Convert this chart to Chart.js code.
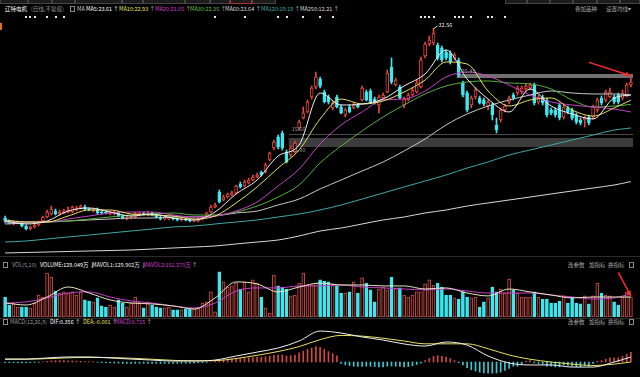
<!DOCTYPE html>
<html>
<head>
<meta charset="utf-8">
<script src="https://cdn.jsdelivr.net/npm/chart.js@4.4.1/dist/chart.umd.min.js"></script>
<style>
  html, body { margin: 0; padding: 0; background: #000; }
  body { width: 640px; height: 377px; position: relative; overflow: hidden;
         font-family: "Noto Sans CJK SC", sans-serif; }
  canvas { position: absolute; }
  .t { position: absolute; font-size: 5.5px; line-height: 7px; white-space: nowrap; color: #bbb; }
  .tab { position: absolute; top: 0; height: 4px; background: #1c1c1c; border: 1px solid #444;
         border-top: none; box-sizing: border-box; }
  .sep { position: absolute; left: 0; width: 640px; height: 1px; background: #2c2c2c; }
  .box { position: absolute; width: 5px; height: 6px; border: 1px solid #888; box-sizing: border-box; }
</style>
</head>
<body>

<div class="tab" style="left:0;width:28px"></div>
<div class="tab" style="left:28px;width:24px"></div>
<div class="tab" style="left:52px;width:23px"></div>
<div class="tab" style="left:75px;width:47px"></div>
<div class="tab" style="left:122px;width:21px"></div>
<div class="tab" style="left:143px;width:42px"></div>
<div class="tab" style="left:185px;width:25px"></div>
<div class="tab" style="left:210px;width:20px"></div>
<div class="tab" style="left:230px;width:22px;border-color:#b03030"></div>
<div class="tab" style="left:252px;width:24px"></div>
<div class="tab" style="left:505px;width:22px"></div>
<div class="tab" style="left:527px;width:23px"></div>
<div class="tab" style="left:550px;width:23px"></div>
<div class="tab" style="left:573px;width:24px"></div>
<div class="tab" style="left:597px;width:23px"></div>
<div class="tab" style="left:620px;width:20px"></div>

<div class="t" style="left:5px;top:6px;color:#fff">辽特电机</div>
<div class="t" style="left:31px;top:6px;color:#999">(日线,不复权)</div>
<div class="box" style="left:70px;top:6px"></div>
<div class="t" style="left:77px;top:6px;color:#ccc">MA</div>
<div class="t" style="left:86px;top:6px;color:#fff">MA5:23.61 ↑</div>
<div class="t" style="left:119px;top:6px;color:#e8e060">MA10:22.93 <span style="color:#ccc">↑</span></div>
<div class="t" style="left:155px;top:6px;color:#d040d0">MA20:21.05 <span style="color:#ccc">↑</span></div>
<div class="t" style="left:190px;top:6px;color:#60c040">MA30:22.35 <span style="color:#ccc">↑</span></div>
<div class="t" style="left:225px;top:6px;color:#ddd">MA60:23.64 ↑</div>
<div class="t" style="left:261px;top:6px;color:#40b0b0">MA120:19.19 <span style="color:#ccc">↑</span></div>
<div class="t" style="left:300px;top:6px;color:#ddd">MA250:12.21 ↑</div>
<div class="t" style="left:575px;top:6px;color:#aaa">叠加品种</div>
<div class="t" style="left:606px;top:6px;color:#aaa">设置均线▾</div>
<div style="position:absolute;left:0;top:23px;width:2px;height:7px;background:#e07020"></div>

<canvas id="price" width="630" height="242" style="left:3px;top:14px"></canvas>
<div class="sep" style="top:256px"></div>

<div class="box" style="left:3px;top:262px"></div>
<div class="t" style="left:12px;top:262px;color:#999">VOL(5,10)</div>
<div class="t" style="left:40px;top:262px;color:#fff">VOLUME:129.049万 ↓</div>
<div class="t" style="left:92px;top:262px;color:#eee">MAVOL1:129.902万 <span style="color:#ccc">↓</span></div>
<div class="t" style="left:143px;top:262px;color:#d040d0">MAVOL2:151.270万 <span style="color:#ccc">↑</span></div>
<div class="t" style="left:568px;top:262px;color:#aaa">改参数</div>
<div class="t" style="left:589px;top:262px;color:#aaa">加指标</div>
<div class="t" style="left:608px;top:262px;color:#aaa">换指标</div>
<div class="box" style="left:629px;top:262px"></div>

<canvas id="vol" width="630" height="49" style="left:3px;top:268px"></canvas>
<div class="sep" style="top:318px"></div>

<div class="box" style="left:3px;top:319px"></div>
<div class="t" style="left:10px;top:319px;color:#999">MACD(12,26,9)</div>
<div class="t" style="left:50px;top:319px;color:#fff">DIF:0.356 ↑</div>
<div class="t" style="left:83px;top:319px;color:#e8e060">DEA:-0.001 <span style="color:#ccc">↑</span></div>
<div class="t" style="left:115px;top:319px;color:#d040d0">MACD:0.715 <span style="color:#ccc">↑</span></div>
<div class="t" style="left:568px;top:319px;color:#aaa">改参数</div>
<div class="t" style="left:589px;top:319px;color:#aaa">加指标</div>
<div class="t" style="left:608px;top:319px;color:#aaa">换指标</div>
<div class="box" style="left:629px;top:319px"></div>

<canvas id="macd" width="630" height="49" style="left:3px;top:328px"></canvas>

<script>
const N = 150
const labels = Array.from({ length: N }, (_, i) => String(i + 1))

// daily candles, price in yuan
const open = [
  7.11, 6.71, 6.31, 6.44, 6.44, 6.04, 5.64, 5.91, 6.18, 6.71,
  7.25, 7.65, 8.05, 7.65, 7.79, 7.92, 7.92, 8.19, 8.46, 8.59,
  8.32, 8.05, 8.32, 7.92, 7.92, 7.65, 7.65, 7.79, 7.38, 6.98,
  7.11, 7.25, 7.52, 7.79, 7.52, 7.79, 7.52, 7.25, 6.98, 6.98,
  7.11, 6.98, 6.85, 6.98, 6.85, 6.71, 6.71, 6.98, 7.38, 7.92,
  8.59, 10.60, 9.53, 9.93, 10.20, 10.47, 11.68, 11.41, 11.81, 12.21,
  12.62, 13.29, 13.29, 14.90, 16.51, 17.99, 18.52, 15.97, 15.57, 15.97,
  19.19, 20.53, 21.34, 23.35, 24.69, 25.77, 24.02, 23.35, 21.88, 23.35,
  22.01, 20.94, 22.01, 21.88, 22.28, 22.95, 24.02, 24.16, 23.08, 22.28,
  23.22, 24.02, 27.38, 24.96, 24.69, 22.28, 22.95, 23.62, 24.02, 24.69,
  28.85, 30.47, 30.60, 30.33, 29.93, 29.39, 29.26, 28.59, 28.32, 25.23,
  23.89, 22.28, 23.35, 23.22, 22.95, 22.14, 22.28, 19.60, 20.27, 21.61,
  22.68, 23.62, 23.89, 24.02, 24.43, 24.56, 24.96, 22.68, 23.35, 22.95,
  21.61, 21.61, 22.28, 20.67, 21.88, 21.61, 20.94, 20.27, 20.27, 20.67,
  20.67, 21.61, 23.22, 22.95, 23.35, 23.35, 23.62, 23.22, 23.62, 24.96
]
const close = [
  6.71, 6.44, 6.58, 6.58, 6.04, 5.64, 5.91, 6.18, 6.58, 7.25,
  7.92, 8.32, 7.65, 7.92, 8.05, 8.19, 8.59, 8.46, 8.72, 8.32,
  8.19, 8.32, 7.79, 7.79, 7.79, 7.92, 7.92, 7.38, 7.11, 7.25,
  7.25, 7.79, 7.79, 7.65, 7.79, 7.52, 7.25, 6.98, 7.11, 7.11,
  6.98, 6.85, 6.98, 6.85, 6.71, 6.85, 6.98, 7.25, 7.79, 8.59,
  8.86, 9.26, 9.93, 10.34, 10.47, 11.41, 11.28, 11.95, 12.21, 12.62,
  12.89, 12.89, 14.23, 15.84, 17.31, 16.64, 16.51, 14.63, 16.51, 17.18,
  20.00, 21.21, 22.68, 24.56, 26.04, 24.83, 22.68, 22.68, 22.55, 22.01,
  21.21, 21.61, 21.34, 22.28, 22.01, 24.56, 22.95, 22.68, 22.55, 23.35,
  23.62, 26.57, 25.37, 25.63, 23.22, 23.08, 23.62, 24.29, 25.23, 28.32,
  30.47, 31.00, 31.94, 28.59, 28.32, 28.59, 28.05, 28.99, 26.31, 23.62,
  21.61, 23.22, 24.29, 22.55, 22.41, 22.68, 20.94, 18.92, 21.61, 22.14,
  23.22, 23.22, 24.56, 24.56, 24.83, 24.96, 22.55, 23.35, 22.55, 20.94,
  21.21, 20.94, 20.53, 22.01, 21.34, 20.53, 20.00, 19.86, 20.53, 19.86,
  22.01, 22.95, 22.55, 24.02, 24.02, 22.68, 22.68, 23.89, 24.96, 25.37
]
const high = [
  7.38, 6.85, 6.71, 6.71, 6.58, 6.18, 6.04, 6.31, 6.71, 7.38,
  8.19, 8.72, 8.32, 8.19, 8.32, 8.59, 8.72, 8.72, 8.86, 8.86,
  8.46, 8.46, 8.46, 8.05, 8.05, 8.05, 8.05, 7.92, 7.52, 7.38,
  7.38, 7.92, 7.92, 7.92, 8.05, 7.92, 7.65, 7.38, 7.25, 7.25,
  7.25, 7.11, 7.11, 7.11, 6.98, 6.98, 7.11, 7.38, 7.92, 8.86,
  9.13, 10.87, 10.20, 10.47, 10.74, 11.54, 11.95, 12.21, 12.48, 12.89,
  13.15, 13.42, 14.50, 15.97, 17.58, 18.25, 18.79, 16.24, 16.78, 17.45,
  20.27, 22.01, 22.95, 24.83, 26.71, 26.04, 24.29, 23.62, 22.82, 23.62,
  22.28, 21.88, 22.28, 22.55, 22.41, 24.83, 24.29, 24.43, 23.35, 23.62,
  23.89, 26.98, 28.59, 25.90, 24.96, 23.35, 23.89, 24.56, 25.63, 28.72,
  30.73, 31.54, 32.56, 30.60, 30.20, 29.66, 29.53, 29.26, 28.59, 25.50,
  24.16, 23.49, 24.56, 23.49, 23.22, 22.95, 22.55, 20.53, 21.88, 22.41,
  23.49, 23.89, 24.83, 24.83, 25.10, 25.23, 25.23, 23.62, 23.62, 23.22,
  21.88, 21.88, 22.55, 22.28, 22.14, 21.88, 21.21, 20.53, 20.80, 20.94,
  22.28, 23.22, 23.49, 24.29, 24.56, 23.62, 23.89, 24.29, 25.23, 25.90
]
const low = [
  6.44, 6.31, 6.18, 6.31, 5.91, 5.50, 5.50, 5.77, 6.04, 6.58,
  7.11, 7.52, 7.52, 7.52, 7.65, 7.79, 7.79, 8.05, 8.32, 8.19,
  8.05, 7.92, 7.65, 7.65, 7.65, 7.52, 7.52, 7.25, 6.98, 6.85,
  6.98, 7.11, 7.38, 7.52, 7.38, 7.38, 7.11, 6.85, 6.85, 6.85,
  6.85, 6.71, 6.71, 6.71, 6.58, 6.58, 6.58, 6.85, 7.25, 7.79,
  8.46, 9.13, 9.40, 9.80, 10.07, 10.34, 11.14, 11.28, 11.68, 12.08,
  12.48, 12.75, 13.15, 14.76, 16.24, 16.37, 16.24, 14.50, 15.30, 15.84,
  18.92, 20.40, 21.21, 23.08, 24.43, 24.56, 22.55, 22.41, 21.61, 21.88,
  21.07, 20.67, 21.21, 21.74, 21.88, 22.82, 22.82, 22.55, 22.41, 21.21,
  23.08, 23.89, 25.10, 24.83, 23.08, 21.88, 22.82, 23.49, 23.89, 24.56,
  28.59, 30.20, 30.33, 28.32, 28.05, 28.32, 27.78, 28.32, 26.04, 23.35,
  21.34, 21.88, 23.08, 22.41, 22.14, 21.61, 20.27, 18.52, 20.00, 21.34,
  22.41, 22.95, 23.62, 23.76, 24.16, 24.29, 22.28, 22.41, 22.28, 20.67,
  20.94, 20.67, 20.27, 20.40, 21.07, 20.27, 19.73, 19.60, 19.33, 19.60,
  20.40, 21.34, 22.28, 22.68, 23.22, 22.41, 22.41, 22.95, 23.35, 24.69
]

// volume, 万股
const volume = [
  130, 78, 91, 65, 65, 65, 59, 91, 143, 130,
  286, 260, 169, 156, 163, 156, 163, 143, 163, 111,
  104, 98, 124, 72, 65, 78, 65, 111, 91, 65,
  91, 130, 98, 59, 98, 78, 65, 59, 59, 65,
  46, 46, 46, 52, 52, 52, 59, 91, 98, 163,
  33, 293, 228, 195, 202, 221, 182, 228, 163, 241,
  221, 130, 59, 26, 273, 202, 195, 182, 137, 143,
  221, 286, 208, 208, 221, 241, 234, 228, 215, 202,
  156, 156, 163, 228, 156, 254, 221, 176, 98, 182,
  195, 176, 260, 189, 189, 143, 130, 143, 163, 163,
  215, 241, 208, 221, 195, 143, 143, 124, 117, 163,
  130, 124, 130, 65, 98, 124, 195, 163, 182, 156,
  247, 176, 156, 130, 130, 130, 163, 130, 117, 117,
  91, 91, 104, 137, 91, 130, 91, 85, 137, 85,
  137, 221, 156, 143, 137, 98, 78, 130, 163, 130
]

// moving averages read every 5th day
const maIdx = [0, 5, 10, 15, 20, 25, 30, 35, 40, 45, 50, 55, 60, 65, 70, 75,
               80, 85, 90, 95, 100, 105, 110, 115, 120, 125, 130, 135, 140, 145, 149]
const ma5   = [6.71, 6.31, 6.71, 8.05, 8.46, 7.92, 7.38, 7.65, 7.11, 6.85, 7.92, 10.34, 12.21, 15.43, 16.91, 23.89,
               22.28, 22.41, 23.08, 24.83, 26.44, 29.66, 25.77, 23.08, 21.34, 24.43, 22.14, 21.07, 20.40, 23.22, 23.61]
const ma10  = [6.85, 6.58, 6.58, 7.38, 8.19, 8.19, 7.65, 7.52, 7.38, 6.98, 7.38, 9.13, 11.28, 13.82, 16.24, 20.40,
               23.08, 22.41, 22.82, 24.02, 25.63, 28.05, 27.78, 24.16, 22.14, 22.95, 23.22, 21.61, 20.80, 21.88, 22.93]
const ma20  = [6.58, 6.58, 6.58, 6.98, 7.38, 7.79, 7.92, 7.92, 7.52, 7.25, 7.38, 8.05, 9.26, 11.41, 13.69, 17.05,
               19.60, 21.34, 22.95, 23.08, 24.16, 26.04, 26.71, 26.17, 24.96, 23.62, 22.68, 22.28, 22.01, 21.74, 21.34]
const ma30  = [6.58, 6.58, 6.58, 6.71, 6.98, 7.25, 7.52, 7.65, 7.79, 7.52, 7.52, 7.92, 8.72, 9.93, 11.54, 14.50,
               16.78, 18.79, 20.67, 22.28, 23.76, 24.83, 25.37, 25.50, 25.23, 25.10, 24.43, 22.95, 22.01, 22.14, 22.35]
const ma60  = [6.31, 6.44, 6.58, 6.71, 6.85, 6.98, 7.11, 7.11, 7.25, 7.25, 7.38, 7.79, 8.05, 8.86, 9.66, 11.01,
               12.21, 13.42, 14.63, 16.11, 17.72, 19.60, 21.07, 22.14, 22.95, 23.62, 24.16, 23.89, 23.76, 23.76, 23.64]
const ma120 = [3.89, 4.03, 4.30, 4.57, 4.83, 5.10, 5.37, 5.64, 5.91, 6.04, 6.31, 6.58, 6.85, 7.25, 7.65, 8.19,
               8.86, 9.66, 10.47, 11.28, 12.08, 12.89, 13.82, 14.63, 15.57, 16.24, 16.91, 17.58, 18.25, 18.92, 19.19]
const ma250 = [2.42, 2.49, 2.55, 2.62, 2.69, 2.75, 2.82, 2.95, 3.09, 3.22, 3.36, 3.63, 3.89, 4.16, 4.70, 5.37,
               5.77, 6.31, 6.85, 7.25, 7.79, 8.19, 8.72, 9.13, 9.53, 9.93, 10.34, 10.74, 11.14, 11.54, 12.00]

const mavol1 = [91, 78, 130, 195, 156, 111, 91, 85, 72, 52, 124, 228, 215, 163, 195, 221,
                208, 208, 202, 202, 182, 189, 156, 137, 182, 163, 143, 124, 130, 130, 129.9]
const mavol2 = [91, 98, 124, 156, 163, 130, 104, 91, 72, 59, 91, 169, 189, 189, 202, 202,
                208, 195, 189, 182, 176, 182, 169, 156, 156, 156, 143, 130, 117, 124, 151.27]

const dif = [0.21, 0.21, 0.29, 0.36, 0.36, 0.29, 0.21, 0.14, 0.07, 0.07, 0.14, 0.43, 0.71, 1.00, 1.50, 2.21,
             2.07, 1.79, 1.57, 1.29, 1.14, 1.43, 1.21, 0.43, -0.07, -0.21, -0.21, -0.36, -0.36, 0.00, 0.356]
const dea = [0.20, 0.20, 0.24, 0.30, 0.33, 0.32, 0.27, 0.20, 0.12, 0.09, 0.10, 0.25, 0.48, 0.75, 1.10, 1.60,
             1.90, 1.85, 1.70, 1.50, 1.30, 1.30, 1.30, 0.95, 0.50, 0.20, 0.00, -0.15, -0.25, -0.15, -0.001]
const macdHist = [
  -0.04, -0.05, -0.05, -0.06, -0.06, -0.05, -0.04, -0.03, -0.02, 0.02,
  0.05, 0.08, 0.10, 0.10, 0.10, 0.08, 0.08, 0.06, 0.05, 0.04,
  0.03, 0.02, -0.02, -0.04, -0.05, -0.06, -0.07, -0.08, -0.10, -0.10,
  -0.10, -0.10, -0.09, -0.09, -0.10, -0.10, -0.10, -0.11, -0.10, -0.10,
  -0.10, -0.10, -0.09, -0.09, -0.08, -0.08, -0.06, -0.05, -0.03, 0.02,
  0.05, 0.10, 0.15, 0.20, 0.22, 0.25, 0.25, 0.28, 0.30, 0.32,
  0.34, 0.35, 0.38, 0.42, 0.48, 0.50, 0.50, 0.42, 0.45, 0.50,
  0.65, 0.78, 0.90, 1.00, 1.10, 1.05, 0.90, 0.75, 0.60, 0.45,
  -0.10, -0.20, -0.25, -0.30, -0.32, -0.32, -0.30, -0.30, -0.32, -0.35,
  -0.35, -0.30, -0.28, -0.30, -0.32, -0.35, -0.32, -0.26, -0.18, -0.08,
  0.10, 0.25, 0.40, 0.45, 0.40, 0.35, 0.25, 0.10, -0.05, -0.20,
  -0.40, -0.55, -0.65, -0.72, -0.78, -0.80, -0.80, -0.78, -0.72, -0.60,
  -0.45, -0.30, -0.30, -0.15, 0.05, 0.10, -0.05, -0.10, -0.15, -0.30,
  -0.30, -0.35, -0.35, -0.20, -0.25, -0.30, -0.35, -0.35, -0.25, -0.30,
  -0.10, 0.05, 0.10, 0.20, 0.30, 0.30, 0.30, 0.40, 0.55, 0.70
]

// info-mine markers (day index) and drawn price bands
const markerDays = [5, 6, 7, 10, 12, 14, 50, 57, 65, 67, 71, 75, 78, 99, 100, 101, 102, 107, 108, 109, 111, 115, 116, 119]
const bandStart  = [108, 68, 68]
const bandTop    = [26.44, 18.39, 17.85]
const bandBottom = [25.90, 18.25, 16.64]
const bandText   = ['25.40', '15.60', '13.90']

const RED = '#e8453c'
const CYAN = '#3de8f0'
const up = i => close[i] >= open[i]

const spread = vals => {
  const a = new Array(N).fill(null)
  maIdx.forEach((d, k) => { a[d] = vals[k] })
  return a
}

const baseOptions = (yMin, yMax, plugins) => ({
  responsive: false,
  animation: false,
  events: [],
  layout: { padding: 0 },
  plugins: { legend: { display: false }, tooltip: { enabled: false }, ...plugins },
  scales: {
    x: { display: false, offset: true, grid: { display: false } },
    y: { display: false, min: yMin, max: yMax, grid: { display: false } }
  }
})

const lineSet = (vals, color) => ({
  type: 'line', data: spread(vals), borderColor: color, borderWidth: 1,
  pointRadius: 0, spanGaps: true, cubicInterpolationMode: 'monotone', order: 0
})

function arrow(ctx, x0, y0, x1, y1) {
  const a = Math.atan2(y1 - y0, x1 - x0)
  ctx.save()
  ctx.strokeStyle = ctx.fillStyle = '#ff2a2a'
  ctx.lineWidth = 1.5
  ctx.beginPath(); ctx.moveTo(x0, y0); ctx.lineTo(x1, y1); ctx.stroke()
  ctx.beginPath()
  ctx.moveTo(x1, y1)
  ctx.lineTo(x1 - 6 * Math.cos(a - 0.45), y1 - 6 * Math.sin(a - 0.45))
  ctx.lineTo(x1 - 6 * Math.cos(a + 0.45), y1 - 6 * Math.sin(a + 0.45))
  ctx.closePath(); ctx.fill()
  ctx.restore()
}

const priceOverlay = {
  id: 'priceOverlay',
  beforeDatasetsDraw(chart) {
    const { ctx, scales: { x, y }, chartArea } = chart
    ctx.save()
    bandStart.forEach((d, k) => {
      const x0 = x.getPixelForValue(d) - 2
      const y0 = y.getPixelForValue(bandTop[k])
      const y1 = y.getPixelForValue(bandBottom[k])
      ctx.fillStyle = k === 0 ? 'rgba(150,150,150,0.75)' : k === 1 ? 'rgba(120,120,120,0.6)' : 'rgba(110,110,110,0.55)'
      ctx.fillRect(x0, y0, chartArea.right - x0 + 4, Math.max(1, y1 - y0))
    })
    ctx.restore()
  },
  afterDatasetsDraw(chart) {
    const { ctx, scales: { x, y } } = chart
    ctx.save()
    ctx.font = '5.5px "Noto Sans CJK SC"'
    ctx.textBaseline = 'middle'
    // band labels
    ctx.fillStyle = '#999'
    bandStart.forEach((d, k) => {
      const yy = k === 0 ? y.getPixelForValue(bandTop[k]) - 3 : y.getPixelForValue(bandBottom[k]) + (k === 1 ? -6 : 3)
      ctx.fillText(bandText[k], x.getPixelForValue(d) + (k === 0 ? 3 : 1), yy)
    })
    // highest price tag
    let hi = 0
    high.forEach((h, i) => { if (h > high[hi]) hi = i })
    const hx = x.getPixelForValue(hi), hy = y.getPixelForValue(high[hi])
    ctx.strokeStyle = '#ddd'; ctx.lineWidth = 1
    ctx.beginPath(); ctx.moveTo(hx, hy + 0.5); ctx.lineTo(hx + 4, hy - 2.5); ctx.stroke()
    ctx.fillStyle = '#eee'
    ctx.fillText(high[hi].toFixed(2), hx + 5, hy - 3)
    // markers above candles
    ctx.fillStyle = '#e8e8e8'
    markerDays.forEach(d => ctx.fillRect(Math.round(x.getPixelForValue(d)) - 1, 2, 2, 2))
    // red hand-drawn arrow
    arrow(ctx, x.getPixelForValue(139), y.getPixelForValue(28.0), x.getPixelForValue(149), y.getPixelForValue(26.2))
    ctx.restore()
  }
}

const volOverlay = {
  id: 'volOverlay',
  afterDatasetsDraw(chart) {
    const { ctx, scales: { x, y } } = chart
    arrow(ctx, x.getPixelForValue(146), y.getPixelForValue(290), x.getPixelForValue(149), y.getPixelForValue(135))
  }
}

new Chart(document.getElementById('price'), {
  data: {
    labels,
    datasets: [
      lineSet(ma5, '#f0f0f0'),
      lineSet(ma10, '#e8e060'),
      lineSet(ma20, '#c840c8'),
      lineSet(ma30, '#58b040'),
      lineSet(ma60, '#c8c8c8'),
      lineSet(ma120, '#3ea8a8'),
      lineSet(ma250, '#d8d8d8'),
      {
        type: 'bar', data: open.map((o, i) => [o, close[i]]),
        backgroundColor: open.map((o, i) => up(i) ? '#000' : CYAN),
        borderColor: open.map((o, i) => up(i) ? RED : CYAN),
        borderWidth: 1, borderSkipped: false, barThickness: 3, minBarLength: 1,
        grouped: false, order: 1
      },
      {
        type: 'bar', data: low.map((l, i) => [l, high[i]]),
        backgroundColor: open.map((o, i) => up(i) ? RED : CYAN),
        barThickness: 1, grouped: false, order: 2
      }
    ]
  },
  options: baseOptions(2.015, 34.49, {}),
  plugins: [priceOverlay]
})

new Chart(document.getElementById('vol'), {
  data: {
    labels,
    datasets: [
      lineSet(mavol1, '#e8e8c0'),
      lineSet(mavol2, '#c840c8'),
      {
        type: 'bar', data: volume,
        backgroundColor: volume.map((v, i) => up(i) ? '#1a0505' : CYAN),
        borderColor: volume.map((v, i) => up(i) ? '#c85048' : CYAN),
        borderWidth: 1, borderSkipped: false, barThickness: 3, grouped: false, order: 1
      }
    ]
  },
  options: baseOptions(0, 318.5, {}),
  plugins: [volOverlay]
})

new Chart(document.getElementById('macd'), {
  data: {
    labels,
    datasets: [
      lineSet(dif, '#f0f0f0'),
      lineSet(dea, '#e8e060'),
      {
        type: 'bar', data: macdHist,
        backgroundColor: macdHist.map(v => v >= 0 ? '#d04a44' : '#3cc8d0'),
        barThickness: 1, grouped: false, order: 1
      }
    ]
  },
  options: baseOptions(-1.07, 2.43, {})
})
</script>
</body>
</html>
